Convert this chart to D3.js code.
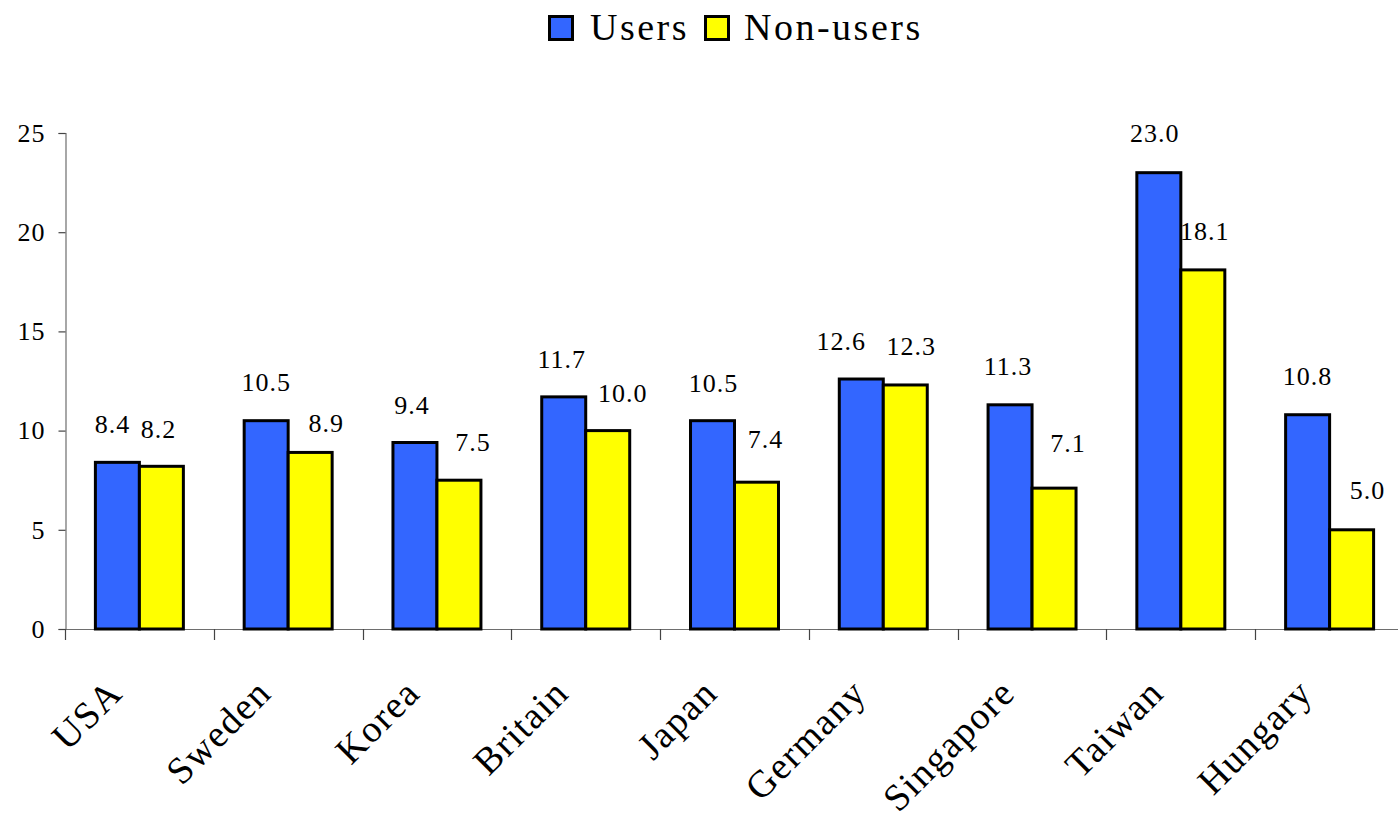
<!DOCTYPE html>
<html>
<head>
<meta charset="utf-8">
<script src="https://cdn.jsdelivr.net/npm/d3@7"></script>
<style>
  html, body { margin: 0; padding: 0; background: #fff; }
  svg { display: block; }
  svg text { font-family: "Times New Roman", Times, "Liberation Serif", Tinos, serif; fill: #000; }
</style>
</head>
<body>
<svg id="chart" width="1398" height="820"></svg>
<script>
// Countries along the x axis
const categories = ["USA", "Sweden", "Korea", "Britain", "Japan", "Germany", "Singapore", "Taiwan", "Hungary"];
// Series values
const users    = [8.4, 10.5, 9.4, 11.7, 10.5, 12.6, 11.3, 23.0, 10.8];
const nonUsers = [8.2, 8.9, 7.5, 10.0, 7.4, 12.3, 7.1, 18.1, 5.0];
const seriesNames = ["Users", "Non-users"];
const yTicks = [0, 5, 10, 15, 20, 25];

// Hand-placed offsets for the value labels (dx, lift above the bar top)
const usersLabelShift    = [[-5, 38], [0, 39], [-3, 38], [-2, 38], [1, 38], [-20, 38], [-2, 39], [-4, 40], [0, 39]];
const nonUsersLabelShift = [[-3, 37], [16, 30], [14, 38], [15, 38], [9, 43], [6, 39], [14, 45], [2, 39], [16, 40]];

const FONT = "'Times New Roman', Times, 'Liberation Serif', Tinos, serif";
const colors = ["#3366FF", "#FFFF00"];
const series = [users, nonUsers];
const shifts = [usersLabelShift, nonUsersLabelShift];

const svg = d3.select("#chart");

const plotLeft = 65, plotRight = 1404, plotTop = 133, plotBottom = 629;

const x0 = d3.scaleBand().domain(categories).range([plotLeft, plotRight]).padding(0);
const groupPad = 30.4;
const x1 = d3.scaleBand().domain(seriesNames).range([groupPad, x0.bandwidth() - groupPad]).padding(0);
const y = d3.scaleLinear().domain([0, 25]).range([plotBottom, plotTop]);

// Y axis
const yAxis = svg.append("g")
  .attr("transform", `translate(${plotLeft + 0.5},0)`)
  .call(d3.axisLeft(y).tickValues(yTicks).tickSize(7).tickPadding(13).tickFormat(d3.format("d")));
yAxis.attr("font-family", FONT);
yAxis.select(".domain").attr("stroke", "#6e6e6e").attr("stroke-width", 1.2);
yAxis.selectAll(".tick line").attr("stroke", "#444").attr("stroke-width", 1.2);
yAxis.selectAll(".tick text")
  .attr("font-family", FONT)
  .attr("font-size", 26).attr("fill", "#000").style("letter-spacing", "1px");

// X axis: baseline and category boundary ticks
svg.append("line")
  .attr("x1", plotLeft).attr("x2", 1398)
  .attr("y1", plotBottom + 0.5).attr("y2", plotBottom + 0.5)
  .attr("stroke", "#6e6e6e").attr("stroke-width", 1.2);
const boundaries = categories.map(c => x0(c)).concat([plotRight]);
svg.append("g").selectAll("line").data(boundaries).join("line")
  .attr("x1", d => Math.round(d) + 0.5).attr("x2", d => Math.round(d) + 0.5)
  .attr("y1", plotBottom).attr("y2", plotBottom + 11)
  .attr("stroke", "#444").attr("stroke-width", 1.2);

// Category labels, rotated
svg.append("g").selectAll("text").data(categories).join("text")
  .attr("transform", d => `translate(${x0(d) + x0.bandwidth() / 2 - 15},${plotBottom + 66}) rotate(-45)`)
  .attr("text-anchor", "end")
  .attr("font-family", FONT)
  .attr("font-size", 38)
  .style("letter-spacing", "1.5px")
  .text(d => d);

// Bars
const groups = svg.append("g").selectAll("g").data(categories).join("g")
  .attr("transform", d => `translate(${x0(d)},0)`);

seriesNames.forEach((name, si) => {
  groups.append("rect")
    .attr("x", x1(name))
    .attr("width", x1.bandwidth())
    .attr("y", (d, i) => y(series[si][i]))
    .attr("height", (d, i) => y(0) - y(series[si][i]))
    .attr("fill", colors[si])
    .attr("stroke", "#000")
    .attr("stroke-width", 3);
});

// Value labels
seriesNames.forEach((name, si) => {
  groups.append("text")
    .attr("x", (d, i) => x1(name) + x1.bandwidth() / 2 + shifts[si][i][0])
    .attr("y", (d, i) => y(series[si][i]) - shifts[si][i][1])
    .attr("dy", "0.35em")
    .attr("text-anchor", "middle")
    .attr("font-family", FONT)
    .attr("font-size", 26)
    .style("letter-spacing", "1px")
    .text((d, i) => series[si][i].toFixed(1));
});

// Legend
const legendItems = [
  { name: "Users", color: colors[0], box: 548, text: 590 },
  { name: "Non-users", color: colors[1], box: 704, text: 744 }
];
const legend = svg.append("g");
legend.selectAll("rect").data(legendItems).join("rect")
  .attr("x", d => d.box + 1.5).attr("y", 16.5)
  .attr("width", 23).attr("height", 23)
  .attr("fill", d => d.color).attr("stroke", "#000").attr("stroke-width", 3);
legend.selectAll("text").data(legendItems).join("text")
  .attr("x", d => d.text).attr("y", 40)
  .attr("font-family", FONT)
  .attr("font-size", 38)
  .style("letter-spacing", "2.5px")
  .text(d => d.name);
</script>
</body>
</html>
